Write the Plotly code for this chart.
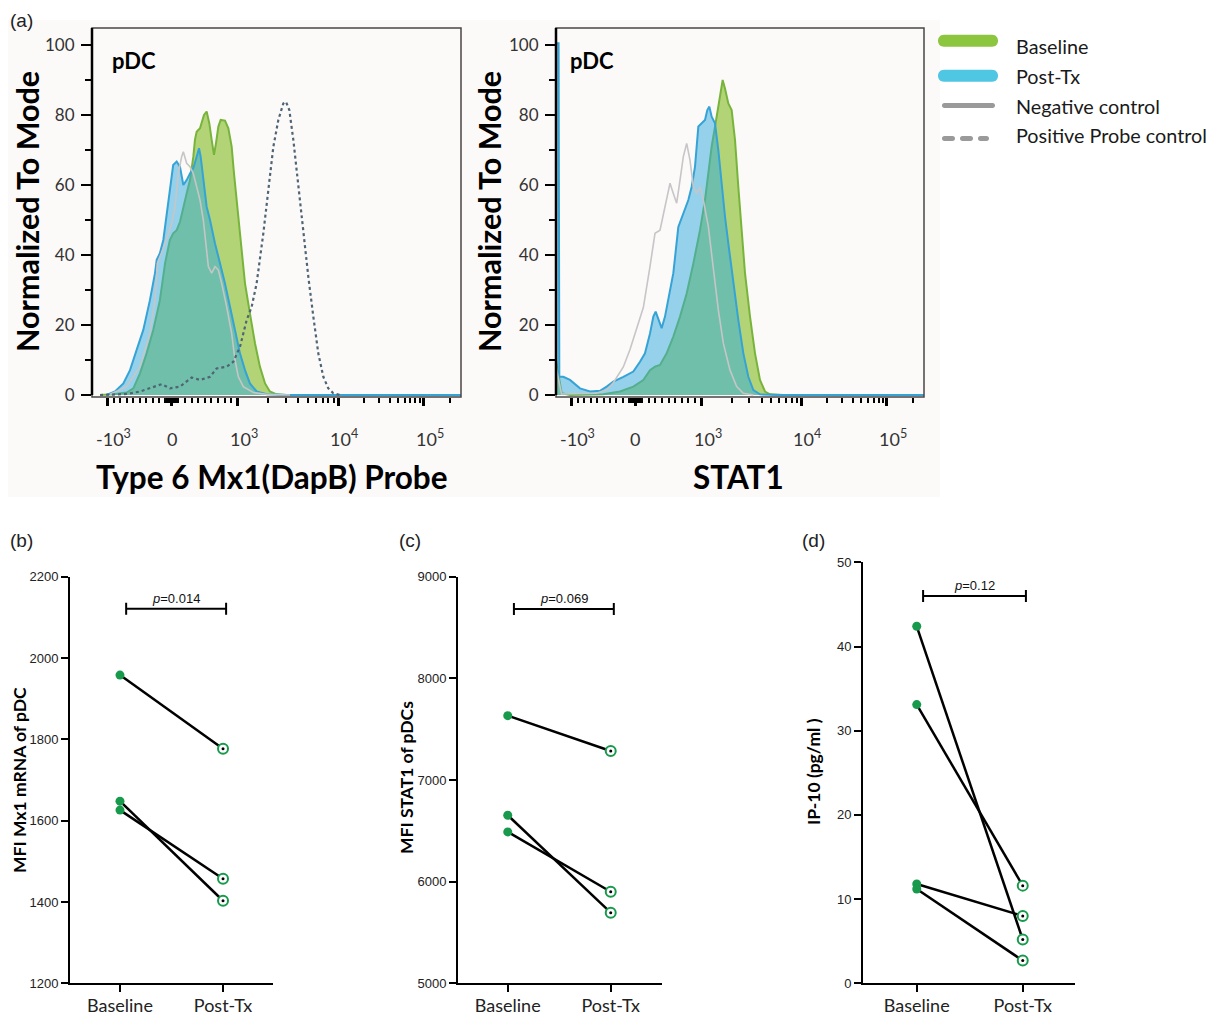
import numpy as np
import plotly.graph_objects as go

# page body has an 8px margin, so the figure is laid out in page coordinates shifted by it
OX, OY = 8, 8
W, H = 1221 - OX, 1015 - OY

# ---------------- Panel (a): flow histograms (display channel 0-1000, % of mode) ----------
MX1_BASE_CH = [21.7, 57.8, 94, 112, 130, 148, 166, 184, 198, 202, 211, 220, 229.5, 238.5, 247.5, 256.5,
               265.6, 274.6, 279, 283.6, 292.7, 303.5, 310.7, 318, 324.3, 330.6, 336, 342.4, 348.7, 360.4,
               369.5, 378.5, 384.8, 392, 401, 414.6, 428, 441.7, 455, 469, 482, 500.5, 527.6, 1000]
MX1_BASE_PCT = [0, 0.2, 0.7, 1.9, 6.2, 11.9, 18.6, 27.1, 37.6, 39.5, 44.3, 46.2, 47.1, 49.5, 53.8, 57.6,
                61.4, 68.1, 72.9, 75.2, 76.2, 80, 81, 77.6, 72.9, 68.6, 71.9, 76.7, 78.6, 78.4,
                76.2, 71, 63.3, 55.7, 46.2, 31.9, 23.3, 14.8, 8.1, 3.3, 1, 0.2, 0, 0]

MX1_POST_CH = [39.8, 62.3, 85, 103, 121, 139, 157, 170.7, 175.3, 184, 193.3, 202, 211, 220, 229.5, 238.5,
               247.5, 256.5, 265.6, 274.6, 283.6, 290, 294.5, 301.7, 310.7, 319.8, 333.3, 347, 360.4, 374,
               387.5, 401, 414.6, 428, 446.3, 473.4, 527.6, 1000]
MX1_POST_PCT = [0, 1, 3.3, 7.1, 12.9, 18.6, 27.1, 34.8, 38.6, 40.5, 44.3, 51, 59.5, 65.7, 66.7, 65.2,
                60, 61.4, 63.3, 64.8, 68.1, 70.5, 68.1, 61.4, 53.8, 50, 43.3, 37.6, 31.9, 25.2,
                18.6, 11.9, 7.1, 3.3, 1, 0.2, 0, 0]

MX1_NEG_CH = [48.8, 94, 130, 157, 170.7, 177, 193.3, 206.9, 215.9, 225, 234, 243, 247.5, 256.5, 265.6,
              274.6, 283.6, 292.7, 301.7, 310.7, 315.3, 324.3, 333.3, 342.4, 351.4, 365, 378.5, 387.5,
              396.6, 410, 437.2, 473.4, 536.6]
MX1_NEG_PCT = [0.2, 2.4, 8.1, 17.6, 27.1, 37.6, 41.9, 46.2, 49, 53.8, 63.3, 68.1, 69.5, 66.2, 65.2,
               63.3, 59.5, 55.7, 50, 40.5, 36.7, 34.8, 36.7, 35.7, 31.9, 25.2, 17.6, 10,
               5.2, 2.4, 0.7, 0.2, 0]

MX1_POS_CH = [21.7, 94, 130, 166.2, 188.8, 211.4, 238.5, 270.1, 292.7, 319.8, 337.8, 364.9, 383, 401.1,
              419.1, 432.7, 446.2, 464.3, 477.8, 491.4, 505, 518.5, 525.7, 534.8, 545.6, 559.1, 572.7,
              586.2, 599.8, 613.3, 626.9, 640.4, 654, 672]
MX1_POS_PCT = [0, 0.3, 1, 2.4, 3.1, 1.9, 2.4, 5, 4.3, 5.2, 7.6, 8.1, 9.5, 13.8,
               21.4, 25.2, 31.9, 46.2, 59.5, 70.9, 78.6, 83.3, 83.8, 81.4, 72.9, 59.5, 46.2,
               33.8, 22.4, 11.9, 5.2, 1.9, 0.5, 0]

STAT_BASE_CH = [0, 15.4, 38, 128.6, 173.9, 210.1, 237.3, 255.4, 269, 282.6, 300.7, 318.8, 337, 355.1,
                373.2, 391.3, 404.9, 414, 423, 432.1, 441.1, 447.5, 452.9, 459.2, 468.3, 477.3, 486.4,
                495.4, 504.5, 513.6, 527.2, 540.8, 554.3, 567.9, 581.5, 617.8, 1000]
STAT_BASE_PCT = [10, 0.5, 0, 0.2, 1, 2.4, 4.3, 7.1, 8.1, 8.6, 11.9, 16.7, 22.4, 29,
                 37.6, 47.1, 55.7, 63.3, 71, 76.7, 82.4, 87.1, 90, 87.6, 83.3, 81.4, 72.9,
                 59.5, 46.2, 34.8, 22.4, 11.9, 4.3, 1, 0.2, 0, 0]

STAT_POST_CH = [0, 7, 9, 19.9, 38, 65.2, 92.4, 119.6, 137.7, 155.8, 183, 210.1, 228.3, 241.8, 255.4,
                264.5, 270.8, 278.1, 287.1, 296.2, 305.3, 318.8, 332.4, 346, 359.6, 368.7, 377.7, 386.8,
                395.8, 404.9, 411.2, 416.7, 423, 432.1, 441.1, 450.2, 459.2, 468.3, 481.9, 495.5, 509.1,
                522.6, 536.2, 554.3, 608.7, 1000]
STAT_POST_PCT = [100.5, 100.5, 5.2, 5.2, 4.3, 1.9, 1, 1.2, 2.4, 3.8, 5.2, 6.7, 9.5, 11.9, 17.6,
                 22.4, 23.8, 21.9, 19.1, 22.4, 27.1, 34.8, 48, 51.9, 55.7, 59.5, 65.2, 76.7,
                 77.6, 78.6, 81.4, 82.4, 79.5, 77.6, 70, 59.5, 51, 43.3, 31.9, 21.4, 11.9,
                 5.2, 1.4, 0.2, 0, 0]

STAT_NEG_CH = [0, 15, 110.5, 137.7, 155.8, 183, 201.1, 219.2, 237.3, 255.4, 269, 282.6, 291.7, 300.7,
               309.8, 318.8, 327.9, 337, 346, 355.1, 364.1, 373.2, 382.3, 391.3, 400.4, 414, 427.5,
               441.1, 454.7, 472.8, 491, 509.1, 536.2]
STAT_NEG_PCT = [8, 0.3, 0.5, 1.5, 3.5, 8, 13, 19, 25, 36.7, 46.2, 47.1, 51.9, 56.7,
                60.5, 57.6, 54.8, 61.4, 68.1, 71.9, 67.1, 59.5, 57.6, 59.5, 55.7, 48.1, 36.7,
                24.3, 14.8, 7.1, 2.4, 0.5, 0]

# biexponential display: anchors of the scale
LIN_FL = [-1000, 0, 1000]
LIN_CH = [42.5, 216, 395.5]
LOG_DEC = [3, 4, 5]
LOG_CH = [395.5, 667, 899]

MAJOR_FL = [-1000, 0, 1000, 1e4, 1e5]
MAJOR_TXT = ["-10<sup>3</sup>", "0", "10<sup>3</sup>", "10<sup>4</sup>", "10<sup>5</sup>"]
MINOR_FL = ([-100 * k for k in range(1, 10)] + [-75, -50, -25, 25, 50, 75] +
            [100 * k for k in range(1, 10)] + [1000 * k for k in range(2, 10)] +
            [1e4 * k for k in range(2, 10)] + [2e5])

# ---------------- Panels (b)-(d): paired values ----------------
CATS = ["Baseline", "Post-Tx"]
MX1_BASE = [1958, 1648, 1626]
MX1_POST = [1777, 1403, 1457]
STAT1_BASE = [7633, 6653, 6489]
STAT1_POST = [7285, 5695, 5901]
IP10_BASE = [42.4, 33.1, 11.8, 11.2]
IP10_POST = [5.2, 11.6, 8.0, 2.7]
P_TEXT = ["0.014", "0.069", "0.12"]
P_LEVEL = [2121, 8682, 46.0]

GREEN_FILL = "rgba(148,196,62,0.70)"
GREEN_LINE = "#78b43c"
BLUE_FILL = "rgba(45,169,221,0.50)"
BLUE_LINE = "#35a3d6"
GREY_LINE = "#c6c6c6"
DOT_LINE = "#4f6575"
DOT_GREEN = "#179a4b"


def fl_to_ch(v):
    v = np.asarray(v, dtype=float)
    lin = np.interp(v, LIN_FL, LIN_CH)
    hi = v > 1000
    lg = np.log10(np.where(hi, v, 1000.0))
    slope = LOG_CH[-1] - LOG_CH[-2]
    loga = np.where(lg <= LOG_DEC[-1], np.interp(lg, LOG_DEC, LOG_CH), LOG_CH[-1] + (lg - LOG_DEC[-1]) * slope)
    return np.where(hi, loga, lin)


def px(x):
    return (x - OX) / W


def py(y):
    return 1 - (y - OY) / H


fig = go.Figure()
shapes, annos = [], []

# subtle tinted background of panel (a)
shapes.append(dict(type="rect", xref="paper", yref="paper", x0=px(8), x1=px(940), y0=py(497), y1=py(20),
                   fillcolor="#fcf9f9", line=dict(width=0), layer="below"))

hist_sets = [
    ("x", "y", MX1_BASE_CH, MX1_BASE_PCT, MX1_POST_CH, MX1_POST_PCT, MX1_NEG_CH, MX1_NEG_PCT, True),
    ("x2", "y2", STAT_BASE_CH, STAT_BASE_PCT, STAT_POST_CH, STAT_POST_PCT, STAT_NEG_CH, STAT_NEG_PCT, False),
]
for xa, ya, bc, bp, pc, pp, nc, np_, has_pos in hist_sets:
    fig.add_trace(go.Scatter(x=bc, y=bp, mode="lines", fill="tozeroy", fillcolor=GREEN_FILL,
                             line=dict(color=GREEN_LINE, width=2), xaxis=xa, yaxis=ya,
                             showlegend=False, hoverinfo="skip"))
    fig.add_trace(go.Scatter(x=pc, y=pp, mode="lines", fill="tozeroy", fillcolor=BLUE_FILL,
                             line=dict(color=BLUE_LINE, width=2), xaxis=xa, yaxis=ya,
                             showlegend=False, hoverinfo="skip"))
    fig.add_trace(go.Scatter(x=nc, y=np_, mode="lines", line=dict(color=GREY_LINE, width=1.6),
                             xaxis=xa, yaxis=ya, showlegend=False, hoverinfo="skip"))
    if has_pos:
        fig.add_trace(go.Scatter(x=MX1_POS_CH, y=MX1_POS_PCT, mode="lines",
                                 line=dict(color=DOT_LINE, width=2.2, dash="dot"),
                                 xaxis=xa, yaxis=ya, showlegend=False, hoverinfo="skip"))

major_ch = fl_to_ch(MAJOR_FL).tolist()
minor_ch = fl_to_ch(MINOR_FL).tolist()

hist_y = dict(range=[-0.57, 104.86], tickvals=[0, 20, 40, 60, 80, 100], ticks="outside", ticklen=10,
              tickwidth=2, tickcolor="black", showgrid=False, zeroline=False, showline=False,
              tickfont=dict(family="Lato", size=17, color="#333333"), ticklabelstandoff=3,
              minor=dict(tickvals=[10, 30, 50, 70, 90], ticks="outside", ticklen=6, tickwidth=1.5,
                         tickcolor="black", showgrid=False))
hist_x = dict(range=[0, 1000], tickvals=major_ch, ticks="outside", ticklen=8, tickwidth=2.5,
              tickcolor="black", showticklabels=False, showgrid=False, zeroline=False, showline=False,
              minor=dict(tickvals=minor_ch, ticks="outside", ticklen=5, tickwidth=1.5, tickcolor="black",
                         showgrid=False))

LEFT_DOM = [px(92), px(461)]
RIGHT_DOM = [px(556), px(924)]
HIST_YDOM = [py(397), py(28)]

layout_axes = {
    "xaxis": dict(hist_x, domain=LEFT_DOM, anchor="y"),
    "yaxis": dict(hist_y, domain=HIST_YDOM, anchor="x"),
    "xaxis2": dict(hist_x, domain=RIGHT_DOM, anchor="y2"),
    "yaxis2": dict(hist_y, domain=HIST_YDOM, anchor="x2"),
}

for xa, ya in [("x", "y"), ("x2", "y2")]:
    shapes.append(dict(type="rect", xref=f"{xa} domain", yref=f"{ya} domain", x0=0, x1=1, y0=0, y1=1,
                       line=dict(color="#4a4545", width=1.5)))
    shapes.append(dict(type="line", xref=f"{xa} domain", yref=ya, x0=0, x1=0, y0=0, y1=104.86,
                       line=dict(color="black", width=2.5)))
    for ch, txt in zip(major_ch, MAJOR_TXT):
        annos.append(dict(x=ch, xref=xa, y=py(452), yref="paper", text=txt, showarrow=False,
                          xanchor="center", yanchor="bottom", xshift=6 if "sup" in txt else 0,
                          font=dict(family="Lato", size=18, color="#333333")))

ytit = dict(family="Lato", size=30.5, color="black")
xtit = dict(family="Lato", size=31.5, color="black")
annos += [
    dict(x=px(27), y=py(212), text="<b>Normalized To Mode</b>", textangle=-90, font=ytit),
    dict(x=px(489), y=py(212), text="<b>Normalized To Mode</b>", textangle=-90, font=ytit),
    dict(x=px(272), y=py(477), text="<b>Type 6 Mx1(DapB) Probe</b>", font=xtit),
    dict(x=px(738), y=py(477), text="<b>STAT1</b>", font=xtit),
    dict(x=px(134), y=py(60), text="<b>pDC</b>", font=dict(family="Lato", size=22, color="black")),
    dict(x=px(592), y=py(60), text="<b>pDC</b>", font=dict(family="Lato", size=22, color="black")),
]
for a in annos[-6:]:
    a.update(showarrow=False, xref="paper", yref="paper", xanchor="center", yanchor="middle")


# legend (drawn)
def pill(x0, x1, yc, h, color):
    r = h / 2
    k = r / 3
    path = (f"M {px(x0 + r)},{py(yc - r)} L {px(x1 - r)},{py(yc - r)} "
            f"C {px(x1 + k)},{py(yc - r)} {px(x1 + k)},{py(yc + r)} {px(x1 - r)},{py(yc + r)} "
            f"L {px(x0 + r)},{py(yc + r)} "
            f"C {px(x0 - k)},{py(yc + r)} {px(x0 - k)},{py(yc - r)} {px(x0 + r)},{py(yc - r)} Z")
    return dict(type="path", xref="paper", yref="paper", path=path, fillcolor=color,
                line=dict(width=0))


shapes += [
    pill(938, 998, 40.8, 12, "#8cc63f"),
    pill(938, 998, 75.8, 12, "#4fc6e2"),
    pill(942, 995, 105.5, 5, "#9a9a9a"),
    pill(942, 955, 138.5, 5, "#9a9a9a"),
    pill(960, 973, 138.5, 5, "#9a9a9a"),
    pill(978, 989, 138.5, 5, "#9a9a9a"),
]
for label, yc in [("Baseline", 46), ("Post-Tx", 76), ("Negative control", 105.5), ("Positive Probe control", 135)]:
    annos.append(dict(x=px(1014), y=py(yc), text=label, showarrow=False, xanchor="left", yanchor="middle",
                      xref="paper", yref="paper", font=dict(family="Lato", size=19.8, color="#1a1a1a")))

# ---------------- Panels (b)-(d) ----------------
panels = [
    ("x3", "y3", [px(70), px(273)], [py(983.3), py(576.7)], [-0.485, 1.485], [1200, 2200], 200,
     MX1_BASE, MX1_POST, "MFI Mx1 mRNA of pDC", 19, 780),
    ("x4", "y4", [px(458), px(662)], [py(983.3), py(576.7)], [-0.483, 1.498], [5000, 9000], 1000,
     STAT1_BASE, STAT1_POST, "MFI STAT1 of pDCs", 406, 778),
    ("x5", "y5", [px(863), px(1075)], [py(983.3), py(562.3)], [-0.507, 1.493], [0, 50], 10,
     IP10_BASE, IP10_POST, "IP-10 (pg/ml )", 813, 771),
]
for i, (xa, ya, xdom, ydom, xr, yr, dt, base, post, ytitle, tx, ty) in enumerate(panels):
    n = i + 3
    for b, p in zip(base, post):
        fig.add_trace(go.Scatter(x=[0, 1], y=[b, p], mode="lines", line=dict(color="black", width=2.5),
                                 xaxis=xa, yaxis=ya, showlegend=False, hoverinfo="skip"))
    fig.add_trace(go.Scatter(x=[0] * len(base), y=base, mode="markers",
                             marker=dict(size=9, color=DOT_GREEN, line=dict(width=0)),
                             xaxis=xa, yaxis=ya, showlegend=False, cliponaxis=False))
    fig.add_trace(go.Scatter(x=[1] * len(post), y=post, mode="markers",
                             marker=dict(size=10, color="white", line=dict(color=DOT_GREEN, width=2)),
                             xaxis=xa, yaxis=ya, showlegend=False, cliponaxis=False))
    fig.add_trace(go.Scatter(x=[1] * len(post), y=post, mode="markers",
                             marker=dict(size=3, color="black"),
                             xaxis=xa, yaxis=ya, showlegend=False, cliponaxis=False))
    layout_axes[f"xaxis{n}"] = dict(domain=xdom, range=xr, anchor=ya, tickvals=[0, 1], ticktext=CATS,
                                    ticks="outside", ticklen=7, tickwidth=2, tickcolor="black",
                                    showline=True, linecolor="black", linewidth=2, showgrid=False,
                                    zeroline=False, ticklabelstandoff=-2,
                                    tickfont=dict(family="Lato", size=18, color="#222"))
    layout_axes[f"yaxis{n}"] = dict(domain=ydom, range=yr, anchor=xa, dtick=dt, tick0=yr[0],
                                    ticks="outside", ticklen=7, tickwidth=2, tickcolor="black",
                                    showline=True, linecolor="black", linewidth=2, showgrid=False,
                                    zeroline=False,
                                    tickfont=dict(family="Liberation Sans", size=13, color="#222"))
    # significance bracket
    lvl = P_LEVEL[i]
    shapes.append(dict(type="line", xref=xa, yref=ya, x0=0.06, x1=1.03, y0=lvl, y1=lvl,
                       line=dict(color="black", width=2)))
    for xe in (0.06, 1.03):
        shapes.append(dict(type="line", xref=xa, yref=ya, x0=xe, x1=xe, ysizemode="pixel", yanchor=lvl,
                           y0=-6, y1=6, line=dict(color="black", width=2)))
    annos.append(dict(x=0.545, y=lvl, xref=xa, yref=ya, text="<i>p</i>=" + P_TEXT[i], showarrow=False,
                      xanchor="center", yanchor="bottom", yshift=1,
                      font=dict(family="Liberation Sans", size=13, color="#111")))
    annos.append(dict(x=px(tx), y=py(ty), xref="paper", yref="paper", text=f"<b>{ytitle}</b>",
                      textangle=-90, showarrow=False, xanchor="center", yanchor="middle",
                      font=dict(family="Lato", size=17.5, color="black")))

for lab, x, y in [("(a)", 8, 20), ("(b)", 8, 540), ("(c)", 397, 540), ("(d)", 800, 540)]:
    annos.append(dict(x=px(x), y=py(y), xref="paper", yref="paper", text=lab, showarrow=False,
                      xanchor="left", yanchor="middle",
                      font=dict(family="Liberation Sans", size=19, color="#222")))

fig.update_layout(
    width=W, height=H, margin=dict(l=0, r=0, t=0, b=0), template="none",
    paper_bgcolor="white", plot_bgcolor="rgba(0,0,0,0)", showlegend=False,
    shapes=shapes, annotations=annos, **layout_axes,
)
fig.write_html("out.html")
